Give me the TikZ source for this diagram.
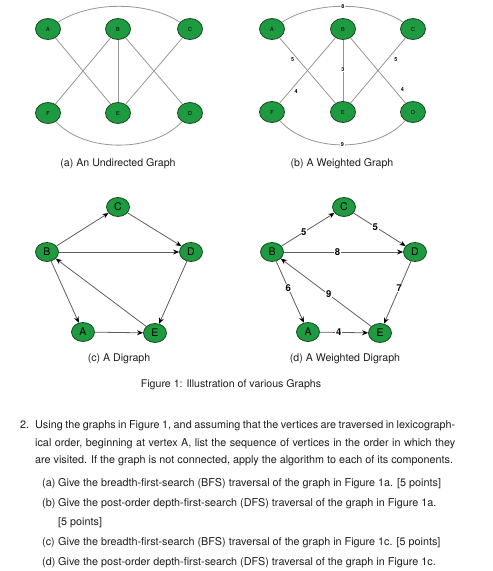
\documentclass[tikz,border=0pt]{standalone}
\usepackage{fontspec}
\setmainfont{TeX Gyre Heros}
\usetikzlibrary{shapes.geometric,arrows.meta}
\definecolor{nodegreen}{RGB}{30,155,65}
\definecolor{nodeborder}{RGB}{25,70,35}
\definecolor{edgegray}{RGB}{150,150,150}
\definecolor{arcgray}{RGB}{95,95,95}
\definecolor{txt}{RGB}{30,30,30}
\begin{document}
\begin{tikzpicture}[x=1pt,y=-1pt,
 smallv/.style={ellipse, draw=nodeborder, line width=0.8pt, fill=nodegreen, minimum width=25pt, minimum height=21pt, inner sep=0pt, font=\fontsize{5.5}{6}\selectfont},
 bigv/.style={ellipse, draw=nodeborder, line width=0.8pt, fill=nodegreen, minimum width=23pt, minimum height=19pt, inner sep=0pt, font=\fontsize{10.5}{12}\selectfont},
 uedge/.style={draw=edgegray, line width=0.8pt},
 dedge/.style={draw=arcgray, line width=0.8pt, -{Stealth[length=6pt,width=5pt,black]}},
 wsmall/.style={font=\fontsize{5.5}{6}\selectfont\bfseries, inner sep=0.5pt},
 wbig/.style={font=\fontsize{9.5}{11}\selectfont\bfseries, fill=white, inner sep=0.6pt},
 captext/.style={font=\fontsize{10.6}{12}\selectfont, text=txt, inner sep=0pt},
 body/.style={font=\fontsize{10.8}{12}\selectfont, text=txt, anchor=base west, inner sep=0pt},
]
\useasboundingbox (0,0) rectangle (493,571);
\fill[white] (0,0) rectangle (493,571);

% ---------- (a) ----------
\node[smallv] (aA) at (48,29) {A};
\node[smallv] (aB) at (118,29) {B};
\node[smallv] (aC) at (190,29) {C};
\node[smallv] (aF) at (48,113) {F};
\node[smallv] (aE) at (118,113) {E};
\node[smallv] (aD) at (190,113) {D};
\draw[uedge] (aA) .. controls (90,1) and (148,1) .. (aC);
\draw[uedge] (aF) .. controls (85,153) and (153,153) .. (aD);
\draw[uedge] (aA) -- (aE);
\draw[uedge] (aB) -- (aF);
\draw[uedge] (aB) -- (aE);
\draw[uedge] (aB) -- (aD);
\draw[uedge] (aC) -- (aE);
\node[captext] (capa) at (118,164) {(a) An Undirected Graph};

% ---------- (b) ----------
\node[smallv] (bA) at (272,29) {A};
\node[smallv] (bB) at (343,29) {B};
\node[smallv] (bC) at (413,29) {C};
\node[smallv] (bF) at (272,112) {F};
\node[smallv] (bE) at (343,112) {E};
\node[smallv] (bD) at (413,112) {D};
\draw[uedge] (bA) .. controls (314,1) and (372,1) .. node[wsmall, fill=white, pos=0.5] {8} (bC);
\draw[uedge] (bF) .. controls (309,153) and (376,153) .. node[wsmall, fill=white, pos=0.5] {9} (bD);
\draw[uedge] (bA) -- node[wsmall, pos=0.33, left=3pt] {5} (bE);
\draw[uedge] (bB) -- node[wsmall, pos=0.82, right=4pt] {4} (bF);
\draw[uedge] (bB) -- node[wsmall, fill=white, pos=0.49] {3} (bE);
\draw[uedge] (bB) -- node[wsmall, pos=0.79, right=6pt] {4} (bD);
\draw[uedge] (bC) -- node[wsmall, pos=0.33, right=6pt] {5} (bE);
\node[captext] (capb) at (342,164) {(b) A Weighted Graph};

% ---------- (c) ----------
\node[bigv] (cC) at (118,207) {C};
\node[bigv] (cB) at (47,252) {B};
\node[bigv] (cD) at (191,252) {D};
\node[bigv] (cA) at (83,332) {A};
\node[bigv] (cE) at (155,333) {E};
\draw[dedge] (cB) -- (cC);
\draw[dedge] (cC) -- (cD);
\draw[dedge] (cB) -- (cD);
\draw[dedge] (cB) -- (cA);
\draw[dedge] (cE) -- (cB);
\draw[dedge] (cD) -- (cE);
\draw[dedge] (cA) -- (cE);
\node[captext] (capc) at (119,359) {(c) A Digraph};

% ---------- (d) ----------
\node[bigv] (dC) at (344,207) {C};
\node[bigv] (dB) at (272,252) {B};
\node[bigv] (dD) at (415,252) {D};
\node[bigv] (dA) at (308,332) {A};
\node[bigv] (dE) at (380,333) {E};
\draw[dedge] (dB) -- node[wbig, pos=0.42] {5} (dC);
\draw[dedge] (dC) -- node[wbig, pos=0.42] {5} (dD);
\draw[dedge] (dB) -- node[wbig, pos=0.45] {8} (dD);
\draw[dedge] (dB) -- node[wbig, pos=0.44] {6} (dA);
\draw[dedge] (dE) -- node[wbig, pos=0.47] {9} (dB);
\draw[dedge] (dD) -- node[wbig, pos=0.43] {7} (dE);
\draw[dedge] (dA) -- node[wbig, pos=0.39] {4} (dE);
\node[captext] (capd) at (345,359) {(d) A Weighted Digraph};

\node[captext] (fig) at (231,385) {Figure 1: Illustration of various Graphs};

% ---------- text ----------
\node[body] (n2) at (20,428) {2.};
\node[body] (l1) at (35,428) {\makebox[420pt][s]{Using the graphs in Figure 1, and assuming that the vertices are traversed in lexicograph-}};
\node[body] (l2) at (35,446) {\makebox[420pt][s]{ical order, beginning at vertex A, list the sequence of vertices in the order in which they}};
\node[body] (l3) at (35,463) {are visited. If the graph is not connected, apply the algorithm to each of its components.};
\node[body] (ia) at (42,486) {(a)};
\node[body] (ta) at (58,486) {Give the breadth-first-search (BFS) traversal of the graph in Figure 1a. [5 points]};
\node[body] (ib) at (42,506) {(b)};
\node[body] (tb) at (58,506) {Give the post-order depth-first-search (DFS) traversal of the graph in Figure 1a.};
\node[body] (tb2) at (58,525) {[5 points]};
\node[body] (ic) at (42,545) {(c)};
\node[body] (tc) at (58,545) {Give the breadth-first-search (BFS) traversal of the graph in Figure 1c. [5 points]};
\node[body] (id) at (42,565) {(d)};
\node[body] (td) at (58,565) {Give the post-order depth-first-search (DFS) traversal of the graph in Figure 1c.};
\end{tikzpicture}
\end{document}
